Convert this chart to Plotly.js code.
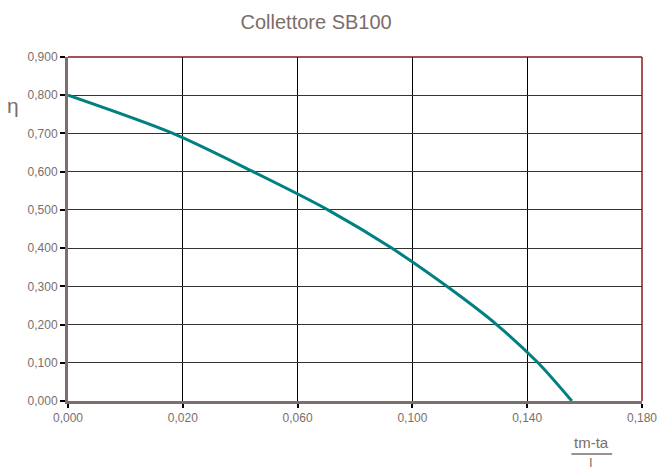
<!DOCTYPE html>
<html>
<head>
<meta charset="utf-8">
<script src="https://cdn.plot.ly/plotly-3.0.1.min.js"></script>
<style>html,body{margin:0;padding:0;background:#fff}#chart{width:660px;height:472px}</style>
</head>
<body>
<div id="chart"></div>
<script>
// Efficiency curve
const xValues = [0, 0.0329, 0.058, 0.0815, 0.1015, 0.1188, 0.1344, 0.1474, 0.158];
const etaValues = [0.8, 0.7, 0.6, 0.5, 0.4, 0.3, 0.2, 0.1, 0.0];

const xTickVals = [0, 0.036, 0.072, 0.108, 0.144, 0.18];
const xTickText = ['0,000', '0,020', '0,060', '0,100', '0,140', '0,180'];
const yTickVals = [0, 0.1, 0.2, 0.3, 0.4, 0.5, 0.6, 0.7, 0.8, 0.9];

const chartTitle = 'Collettore SB100';
const yLabel = 'η';
const xLabelTop = 'tm-ta';
const xLabelBottom = 'I';

const txtColor = '#7a6e6a';
const axisColor = '#7d6f6b';

const trace = {
  x: xValues, y: etaValues, type: 'scatter', mode: 'lines',
  line: {color: '#008080', width: 3, shape: 'spline', smoothing: 0.8},
  hoverinfo: 'skip', showlegend: false
};

const layout = {
  width: 660, height: 472,
  margin: {l: 68, r: 18, t: 57, b: 71},
  paper_bgcolor: '#ffffff', plot_bgcolor: '#ffffff',
  separators: ',.',
  font: {family: 'Liberation Sans, Arial, sans-serif', color: txtColor},
  title: {text: chartTitle, x: 0.479, xanchor: 'center', y: 0.953, yanchor: 'middle',
          font: {size: 20, color: txtColor}},
  xaxis: {
    range: [0, 0.18], tickvals: xTickVals, ticktext: xTickText,
    showline: true, linecolor: axisColor, linewidth: 3, mirror: false,
    showgrid: true, gridcolor: '#000000', gridwidth: 1,
    ticks: 'outside', ticklen: 4, tickwidth: 2, tickcolor: '#000000',
    tickfont: {size: 12, color: txtColor}, zeroline: false, fixedrange: true
  },
  yaxis: {
    range: [0, 0.9], tickvals: yTickVals, tickformat: '.3f',
    showline: true, linecolor: axisColor, linewidth: 3, mirror: false,
    showgrid: true, gridcolor: '#333333', gridwidth: 1,
    ticks: 'outside', ticklen: 5, tickwidth: 2, tickcolor: '#000000',
    tickfont: {size: 12, color: txtColor}, zeroline: false, fixedrange: true
  },
  shapes: [
    {type: 'line', xref: 'paper', yref: 'paper', x0: 0, x1: 1, y0: 1, y1: 1,
     line: {color: '#8b1a1a', width: 1.5}},
    {type: 'line', xref: 'paper', yref: 'paper', x0: 1, x1: 1, y0: 0, y1: 1,
     line: {color: '#8b1a1a', width: 1.5}},
    {type: 'line', xref: 'paper', yref: 'paper', x0: 0.877, x1: 0.948, y0: -0.154, y1: -0.154,
     line: {color: txtColor, width: 1.5}}
  ],
  annotations: [
    {text: yLabel, xref: 'paper', yref: 'paper', x: -0.095, y: 0.86, xanchor: 'center', yanchor: 'middle',
     showarrow: false, font: {size: 21, color: txtColor}},
    {text: xLabelTop, xref: 'paper', yref: 'paper', x: 0.912, y: -0.122, xanchor: 'center', yanchor: 'middle',
     showarrow: false, font: {size: 15, color: txtColor}},
    {text: xLabelBottom, xref: 'paper', yref: 'paper', x: 0.912, y: -0.18, xanchor: 'center', yanchor: 'middle',
     showarrow: false, font: {size: 13, color: txtColor}}
  ]
};

Plotly.newPlot('chart', [trace], layout, {displayModeBar: false, staticPlot: true});
</script>
</body>
</html>
